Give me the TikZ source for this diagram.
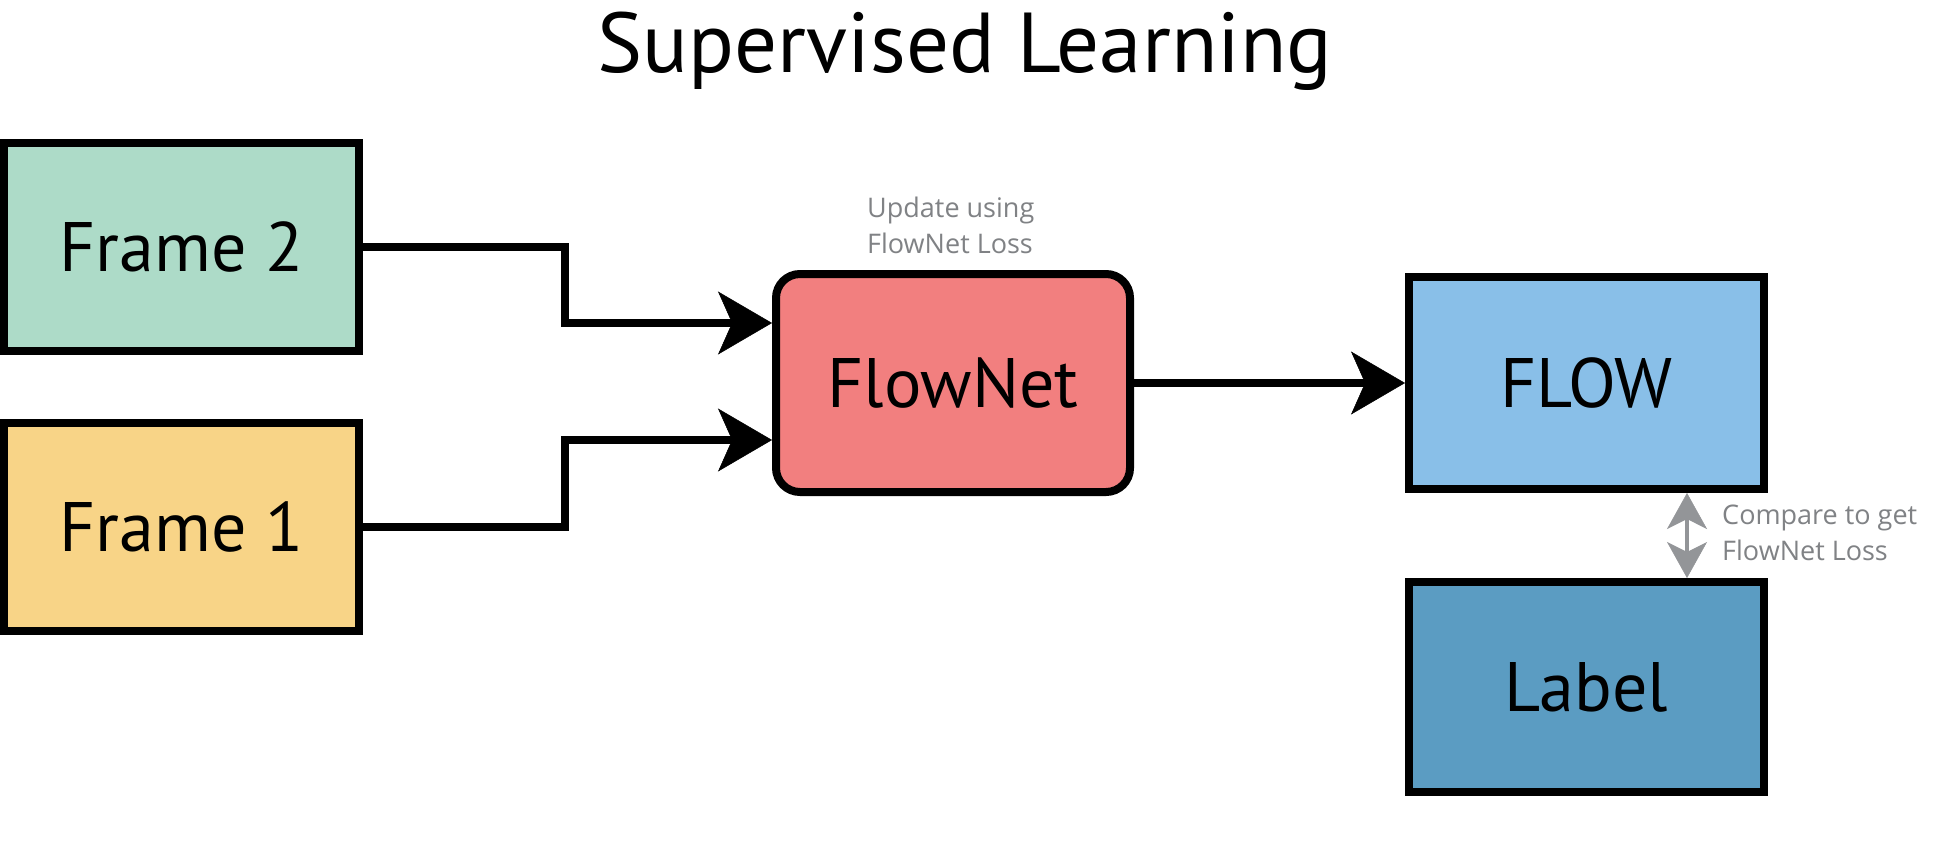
\documentclass[tikz,border=0pt]{standalone}
\usepackage{fontspec}
\setmainfont{PT Sans}
\newfontfamily\notefont{Open Sans}
\usetikzlibrary{arrows.meta,calc}
\definecolor{cfrtwo}{HTML}{ADDBC8}
\definecolor{cfrone}{HTML}{F8D487}
\definecolor{cfn}{HTML}{F27F7F}
\definecolor{cflow}{HTML}{89BFE8}
\definecolor{clab}{HTML}{5B9CC2}
\definecolor{cgray}{HTML}{808285}
\definecolor{carr}{HTML}{939598}
\begin{document}
\begin{tikzpicture}[x=1pt,y=-1pt,
 box/.style={draw=black,line width=8pt,minimum width=355pt,minimum height=208pt,inner sep=0pt,font=\fontsize{70}{84}\selectfont},
 conn/.style={line width=8pt,-{Stealth[length=54pt,width=63pt,inset=14pt,line width=0.5pt]}},
 note/.style={text=cgray,font=\notefont\fontsize{27}{36}\selectfont,align=left,inner sep=0pt},
 cmp/.style={draw=carr,line width=4pt,{Stealth[length=36pt,width=40pt,inset=10pt,line width=0.5pt]}-{Stealth[length=36pt,width=40pt,inset=10pt,line width=0.5pt]}}]
\useasboundingbox[fill=white] (0,0) rectangle (1948,867);
\node[box,fill=cfrtwo] (f2) at (181.5,246.5) {Frame 2};
\node[box,fill=cfrone] (f1) at (181.5,527) {Frame 1};
\node[box,fill=cfn,rounded corners=24pt,minimum width=354pt,minimum height=218pt] (fn) at (953,383) {FlowNet};
\node[box,fill=cflow,minimum height=212pt] (flow) at (1586.5,383) {FLOW};
\node[box,fill=clab,minimum height=210pt] (lab) at (1586.5,687) {Label};
\node[font=\fontsize{85}{100}\selectfont,anchor=base,inner sep=0pt] (title) at (965,72) {Supervised Learning};
\node[note,anchor=north west] (upd) at (867,197) {Update using\\FlowNet Loss};
\node[note,anchor=north west] (cmpt) at (1722,505) {Compare to get\\FlowNet Loss};
\draw[conn] (f2.east) -- ++(202,0) |- ([yshift=60pt]fn.west);
\draw[conn] (f1.east) -- ++(202,0) |- ([yshift=-57pt]fn.west);
\draw[conn] (fn.east) -- (flow.west);
\draw[cmp] ([xshift=100.5pt]flow.south) -- ([xshift=100.5pt]lab.north);
\end{tikzpicture}
\end{document}
